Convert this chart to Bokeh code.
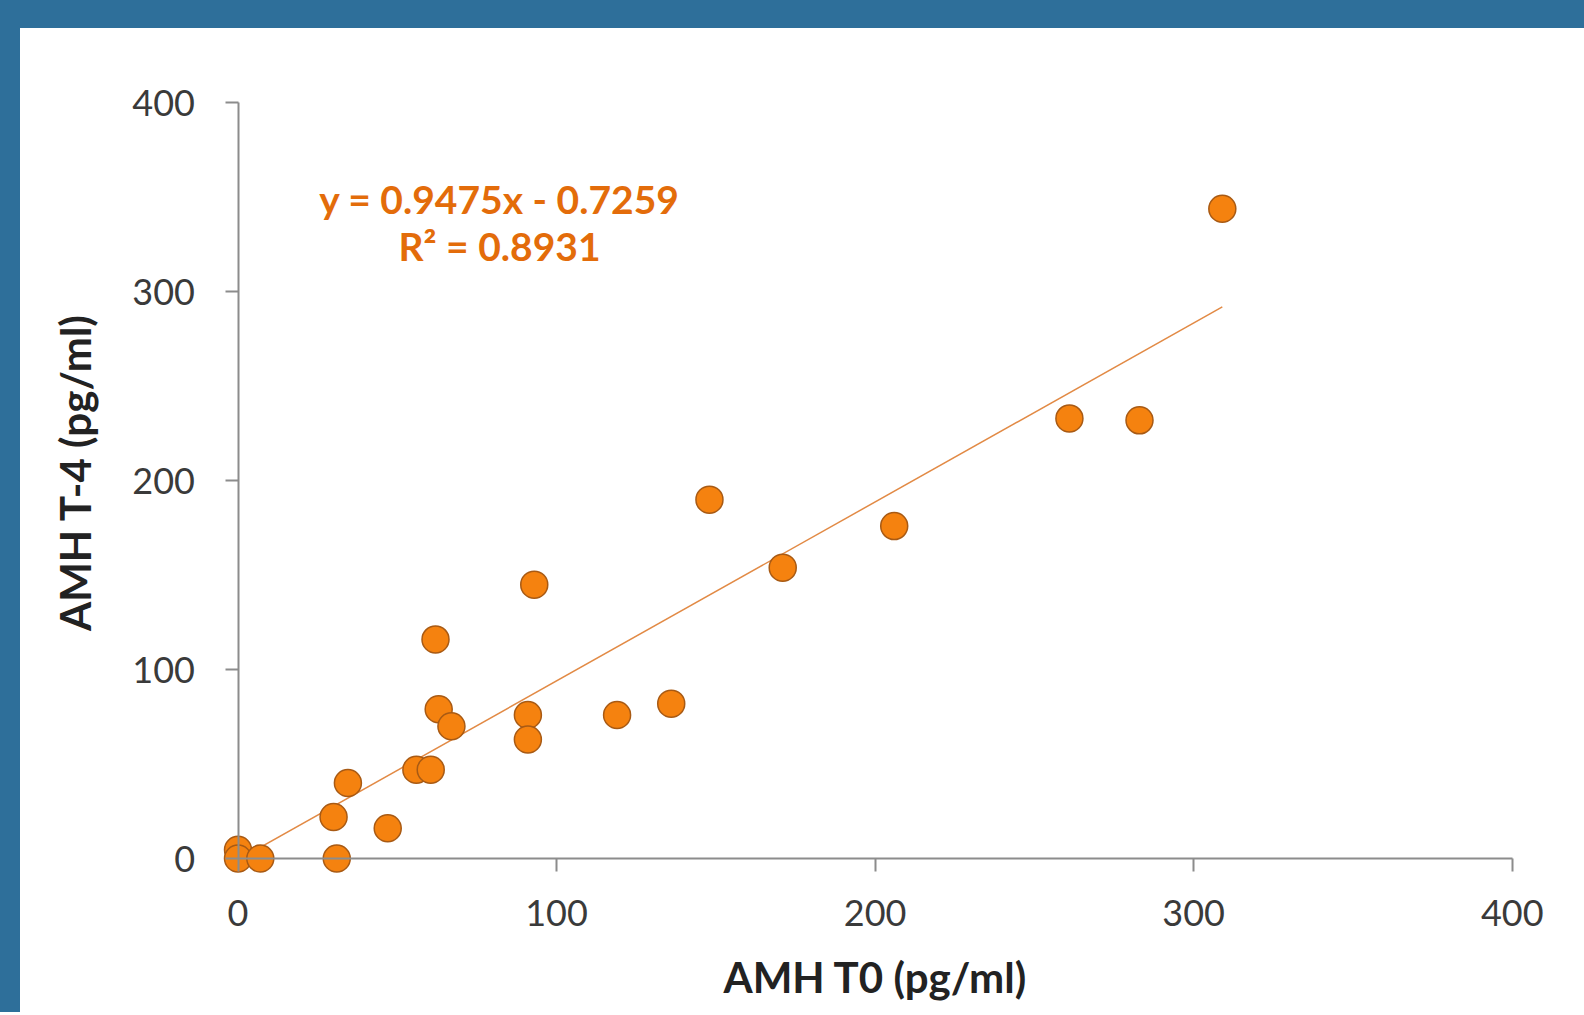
import math
from bokeh.plotting import figure
from bokeh.models import Range1d, FixedTicker, Label, Div
from bokeh.layouts import column, row
from bokeh.embed import file_html
from bokeh.resources import INLINE

# Data
amh_t0 = [0, 0, 7, 31, 30, 47, 34.5, 56, 60.5, 62, 63, 67, 91, 91, 93,
          119, 136, 148, 171, 206, 261, 283, 309]
amh_t4 = [4.6, 0, 0, 0, 22, 16, 40, 47, 47, 116, 79, 70, 76, 63, 145,
          76, 82, 190, 154, 176, 233, 232, 344]
slope = 0.9475
intercept = -0.7259
r2 = 0.8931
ticks = [0, 100, 200, 300, 400]
x_title = "AMH T0 (pg/ml)"
y_title = "AMH T-4 (pg/ml)"

ORANGE_TXT = "#E36C0A"
BLUE = "#2E6F9A"
FONT = "Lato"

p = figure(width=1560, height=984, output_backend="svg", toolbar_location=None,
           x_range=Range1d(-68.28, 421.44), y_range=Range1d(-81.53, 439.44),
           min_border=0)
p.frame_width = 1560
p.frame_height = 984
p.background_fill_color = "white"
p.border_fill_color = "white"
p.outline_line_color = None
p.grid.visible = False

for ax in (p.xaxis[0], p.yaxis[0]):
    ax.ticker = FixedTicker(ticks=ticks)
    ax.bounds = (0, 400)
    ax.fixed_location = 0
    ax.minor_tick_line_color = None
    ax.axis_line_color = "#8C8C8C"
    ax.axis_line_width = 2
    ax.major_tick_line_color = "#8C8C8C"
    ax.major_tick_line_width = 2
    ax.major_tick_out = 13
    ax.major_tick_in = 0
    ax.major_label_text_font = FONT
    ax.major_label_text_font_size = "36px"
    ax.major_label_text_color = "#3A3A3A"
    ax.axis_label_text_font = FONT
    ax.axis_label_text_font_style = "bold"
    ax.axis_label_text_font_size = "42px"
    ax.axis_label_text_color = "#222222"

p.xaxis[0].axis_label = x_title
p.xaxis[0].major_label_standoff = 28
p.yaxis[0].major_label_standoff = 30
p.xaxis[0].axis_label_standoff = 23

# y axis title, placed a little above the axis centre as in the original
p.add_layout(Label(x=-51.3, y=204.4, text=y_title, angle=math.pi / 2,
                   text_align="center", text_baseline="middle",
                   text_font=FONT, text_font_style="bold",
                   text_font_size="42px", text_color="#222222"))

# trend line over the data range
xmin, xmax = min(amh_t0), max(amh_t0)
p.line([xmin, xmax], [slope * xmin + intercept, slope * xmax + intercept],
       line_color="#E28A45", line_width=1.5)

p.scatter(amh_t0, amh_t4, size=27, fill_color="#F5820F",
          line_color="#A85A14", line_width=1.5)

eq = f"y = {slope}x - {abs(intercept)}"
p.add_layout(Label(x=82.1, y=349.2, text=eq, text_align="center",
                   text_baseline="middle", text_font=FONT,
                   text_font_style="bold", text_font_size="39px",
                   text_color=ORANGE_TXT))
p.add_layout(Label(x=82.1, y=324.3, text=f"R\u00b2 = {r2}", text_align="center",
                   text_baseline="middle", text_font=FONT,
                   text_font_style="bold", text_font_size="39px",
                   text_color=ORANGE_TXT))

top_band = Div(text="", width=1584, height=28, margin=0,
               styles={"background-color": BLUE})
left_band = Div(text="", width=20, height=984, margin=0,
                styles={"background-color": BLUE})
layout = column(top_band, row(left_band, p, spacing=0), spacing=0)

open("out.html", "w").write(file_html(layout, INLINE))
